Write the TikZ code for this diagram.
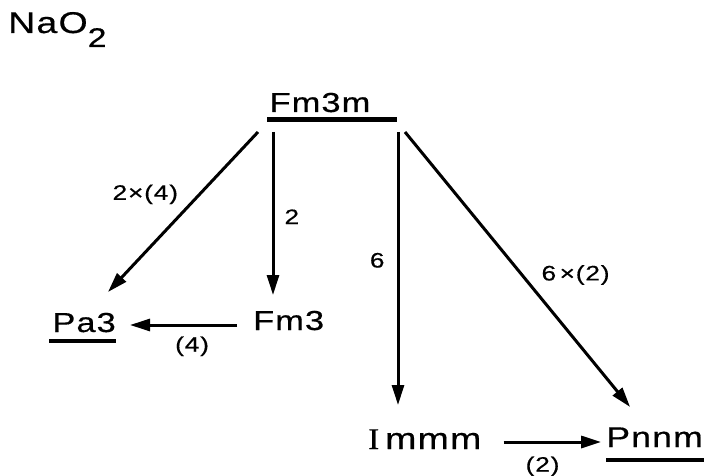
\documentclass[tikz,border=0pt]{standalone}
\usepackage{fontspec}
\setmainfont{Liberation Sans}[FakeStretch=1.25,LetterSpace=4,FakeBold=0.5]
\newfontfamily\romI{Liberation Serif}[FakeStretch=1.1,FakeBold=0.5]
\usetikzlibrary{arrows.meta}

\begin{document}
\begin{tikzpicture}[
  x=1pt,y=-1pt,
  grp/.style={inner sep=0pt,font=\fontsize{27.5}{30}\selectfont},
  lbl/.style={inner sep=0pt,font=\fontsize{21}{24}\selectfont},
  ar/.style={-{Triangle[length=20pt,width=12pt]},line width=3pt},
  ul/.style={line width=4.5pt}
]
\useasboundingbox (0,0) rectangle (704,476);

% compound
\node[anchor=base west,inner sep=0pt,font=\fontsize{30}{34}\selectfont] (title) at (8,33)
  {NaO\raisebox{-14pt}{\fontsize{27}{30}\selectfont 2}};

% space groups
\node[grp,anchor=base] (Fm3m) at (320,112) {Fm3m};
\node[grp,anchor=base west] (Fm3) at (253,330) {Fm3};
\node[grp,anchor=base east] (Pa3) at (116,332) {Pa3};
\node[grp,anchor=base west,font=\fontsize{30}{33}\selectfont] (Immm) at (368,449) {{\romI I}\hspace{6pt}mmm};
\node[grp,anchor=base east,font=\fontsize{28.5}{31}\selectfont] (Pnnm) at (703,447) {Pnnm};

% underlines
\draw[ul] ([xshift=-53pt,yshift=-7.5pt]Fm3m.base) -- ([xshift=77pt,yshift=-7.5pt]Fm3m.base);
\draw[ul] ([xshift=-3pt,yshift=-9pt]Pa3.base west) -- ([yshift=-9pt]Pa3.base east);
\draw[ul] ([yshift=-13pt]Pnnm.base west) -- ([xshift=1pt,yshift=-13pt]Pnnm.base east);

% subgroup arrows
\draw[ar] ([xshift=-62pt,yshift=-20pt]Fm3m.base) -- node[lbl,pos=0.39,left=20pt]{2×(4)} ([xshift=-8pt,yshift=40pt]Pa3.base east);
\draw[ar] ([xshift=-47pt,yshift=-20pt]Fm3m.base) -- node[lbl,pos=0.52,right=10pt]{2} ([xshift=20pt,yshift=35pt]Fm3.base west);
\draw[ar] ([xshift=78pt,yshift=-20pt]Fm3m.base) -- node[lbl,pos=0.47,left=12pt]{6} ([xshift=30pt,yshift=44pt]Immm.base west);
\draw[ar] ([xshift=85pt,yshift=-20pt]Fm3m.base) -- node[lbl,pos=0.52,right=18pt]{6\,×(2)} ([xshift=24pt,yshift=40pt]Pnnm.base west);
\draw[ar] ([xshift=-16pt,yshift=5pt]Fm3.base west) -- node[lbl,pos=0.42,below=10pt]{(4)} ([xshift=14pt,yshift=7pt]Pa3.base east);
\draw[ar] ([xshift=22pt,yshift=7pt]Immm.base east) -- node[lbl,pos=0.4,below=13pt]{(2)} ([xshift=-5pt,yshift=5pt]Pnnm.base west);
\end{tikzpicture}
\end{document}
